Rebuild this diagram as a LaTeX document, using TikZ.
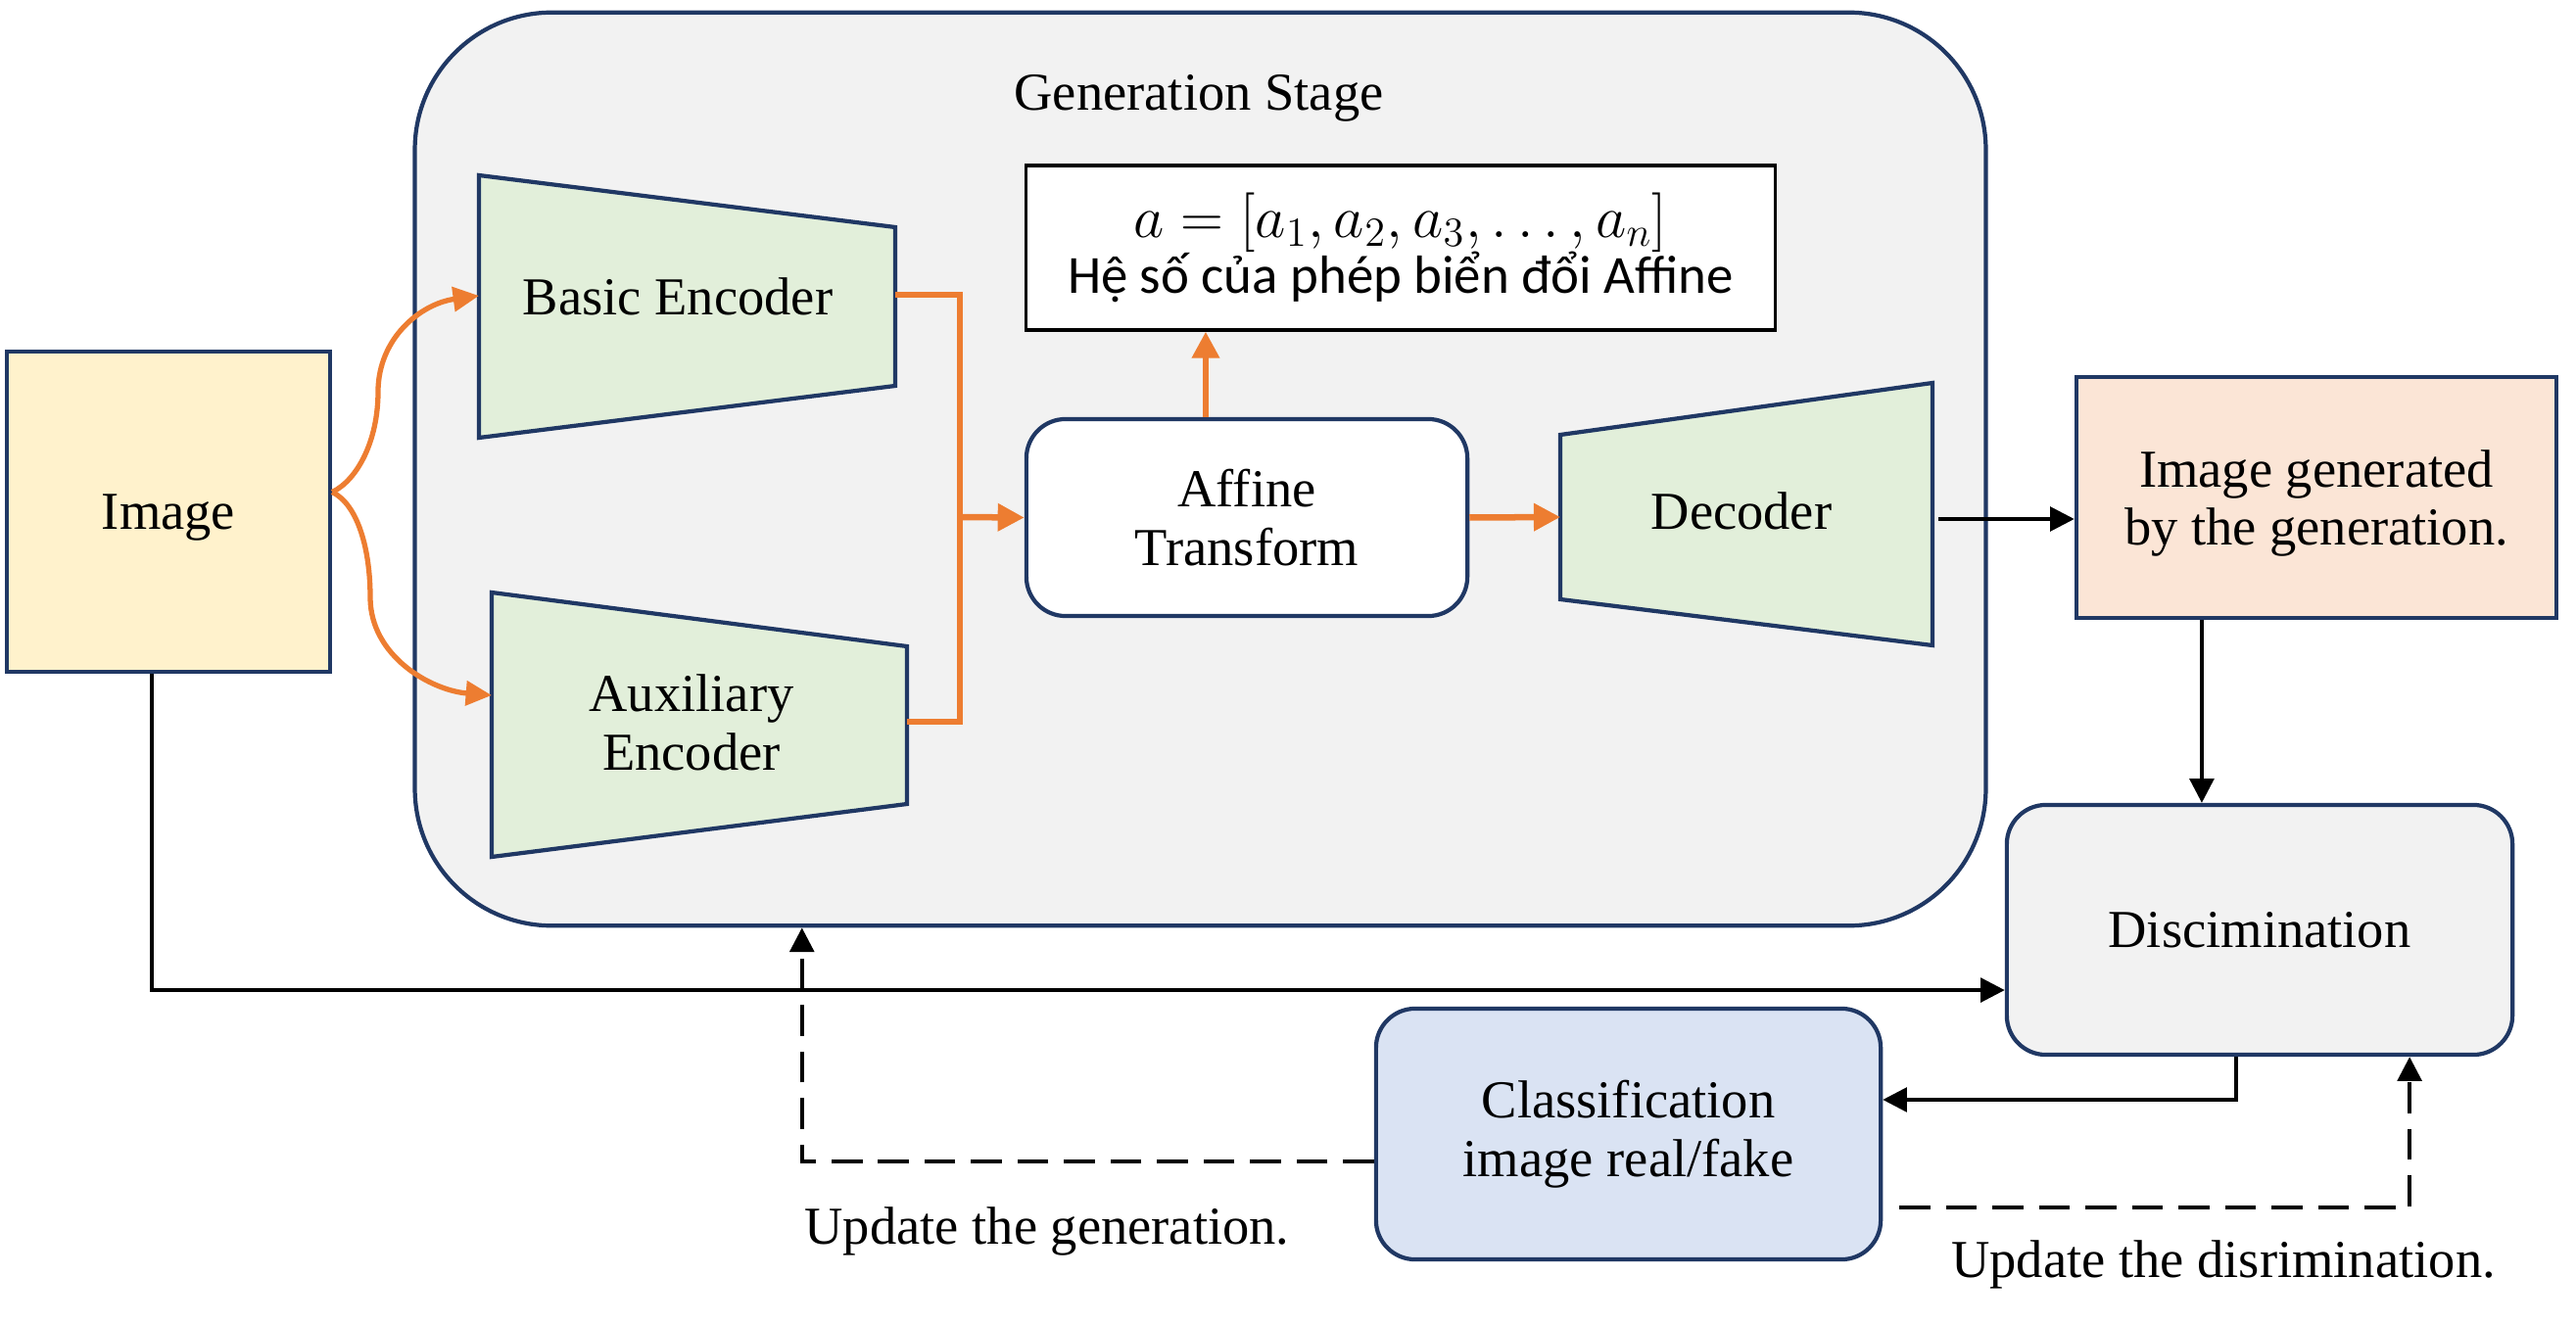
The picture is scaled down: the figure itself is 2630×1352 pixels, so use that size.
\documentclass[tikz,border=0pt]{standalone}
\usepackage{fontspec}
\setmainfont{Liberation Serif}
\newfontfamily\calib{Carlito}
\usetikzlibrary{arrows.meta}
\definecolor{navy}{HTML}{203864}
\definecolor{orng}{HTML}{ED7D31}
\definecolor{grn}{HTML}{E2EFDA}
\definecolor{ylw}{HTML}{FFF2CC}
\definecolor{peach}{HTML}{FBE5D6}
\definecolor{lblue}{HTML}{DAE3F3}
\definecolor{lgrey}{HTML}{F2F2F2}
\tikzset{
  lbl/.style={font=\fontsize{15.5}{17}\selectfont, align=center, inner sep=0pt},
  nbox/.style={draw=navy, line width=1.2pt, align=center, font=\fontsize{15.5}{17}\selectfont, inner sep=2pt},
  rbox/.style={nbox, rounded corners=0.4cm},
  trap/.style={draw=navy, line width=1.2pt, fill=grn, line join=miter},
  oline/.style={draw=orng, line width=1.85pt},
  otip/.style={-{Triangle[length=7.7pt,width=7.7pt]}},
  oarr/.style={oline, otip},
  ocurve/.style={draw=orng, line width=1.5pt, -{Triangle[length=7.5pt,width=7pt]}},
  barr/.style={draw=black, line width=1.05pt, -{Triangle[length=7pt,width=7pt]}},
  darr/.style={barr, dash pattern=on 9pt off 4.5pt}
}
\begin{document}
\begin{tikzpicture}[x=0.01cm,y=-0.01cm]
\useasboundingbox (0,0) rectangle (2630,1352);

% Generation stage container
\node[nbox, fill=lgrey, rounded corners=1.4cm, minimum width=16.03cm, minimum height=9.32cm] (gs) at (1225.5,479) {};
\node[lbl] (gst) at (1224,100) {Generation Stage};

% Image
\node[nbox, fill=ylw, minimum width=3.3cm, minimum height=3.27cm,
  label={[lbl,yshift=-0.06cm]center:Image}] (img) at (172,522.5) {};

% Basic encoder (trapezoid)
\draw[trap] (489,179) -- (914,232) -- (914,394) -- (489,447) -- cycle;
\node[lbl] (be) at (692,303) {Basic Encoder};
\coordinate (be-in) at (489,302);
\coordinate (be-out) at (914,301);

% Auxiliary encoder
\draw[trap] (502,605) -- (926,660) -- (926,821) -- (502,875) -- cycle;
\node[lbl] (ae) at (706,738) {Auxiliary\\Encoder};
\coordinate (ae-in) at (502,710);
\coordinate (ae-out) at (926,737);

% Decoder
\draw[trap] (1593,444) -- (1973,391) -- (1973,659) -- (1593,612) -- cycle;
\node[lbl] (dec) at (1778,522) {Decoder};
\coordinate (dec-in) at (1593,528);
\coordinate (dec-out) at (1979,530);

% Affine transform
\node[rbox, fill=white, minimum width=4.5cm, minimum height=2.01cm] (aff) at (1273,528.5) {Affine\\Transform};

% Coefficient box
\node[draw=black, line width=0.9pt, fill=white, align=center, minimum width=7.64cm, minimum height=1.68cm, inner sep=0pt] (coef) at (1430,253)
  {\fontsize{17}{19}\selectfont$a=[a_1,a_2,a_3,\dots,a_n]$\\[-1pt]{\calib\fontsize{15.6}{17}\selectfont Hệ số của phép biển đổi Affine}};

% Image generated
\node[nbox, fill=peach, minimum width=4.9cm, minimum height=2.46cm,
  label={[lbl,yshift=-0.06cm]center:Image generated\\by the generation.}] (ig) at (2365,508) {};

% Discrimination
\node[rbox, fill=lgrey, minimum width=5.16cm, minimum height=2.55cm] (disc) at (2307,949.5) {Discimination};

% Classification
\node[rbox, fill=lblue, minimum width=5.15cm, minimum height=2.56cm] (cls) at (1662.5,1158) {Classification\\image real/fake};

% Labels
\node[lbl] (ug) at (1069,1257) {Update the generation.};
\node[lbl] (ud) at (2270,1291) {Update the disrimination.};

% Orange connectors
\coordinate (src) at ([yshift=0.2cm]img.east);
\draw[ocurve] (src) .. controls (365,490) and (386,450) .. (386,400) .. controls (386,345) and (430,310) .. (be-in);
\draw[ocurve] (src) .. controls (365,515) and (378,560) .. (378,610) .. controls (378,670) and (440,705) .. (ae-in);
\coordinate (bus) at (980,528);
\draw[oline] (be-out) -- (be-out -| bus) -- (ae-out -| bus) -- (ae-out);
\draw[oarr] (bus) -- (aff.west);
\draw[oarr] ([xshift=-0.42cm]aff.north) -- ([xshift=-0.42cm]aff.north |- coef.south);
\draw[oarr] (aff.east) -- (dec-in);

% Black connectors
\draw[barr] (dec-out) -- (dec-out -| ig.west);
\draw[barr] ([xshift=-1.17cm]ig.south) -- ([xshift=-1.17cm]ig.south |- disc.north);
\draw[barr] ([xshift=-0.17cm]img.south) |- ([yshift=-0.615cm]disc.west);
\draw[barr] ([xshift=-0.24cm]disc.south) |- ([yshift=0.35cm]cls.east);

% Dashed connectors
\draw[darr] ([yshift=-0.28cm]cls.west) -| ([xshift=-4.065cm]gs.south);
\draw[darr] ([xshift=0.17cm,yshift=-0.75cm]cls.east) -| ([xshift=1.53cm]disc.south);
\end{tikzpicture}
\end{document}
